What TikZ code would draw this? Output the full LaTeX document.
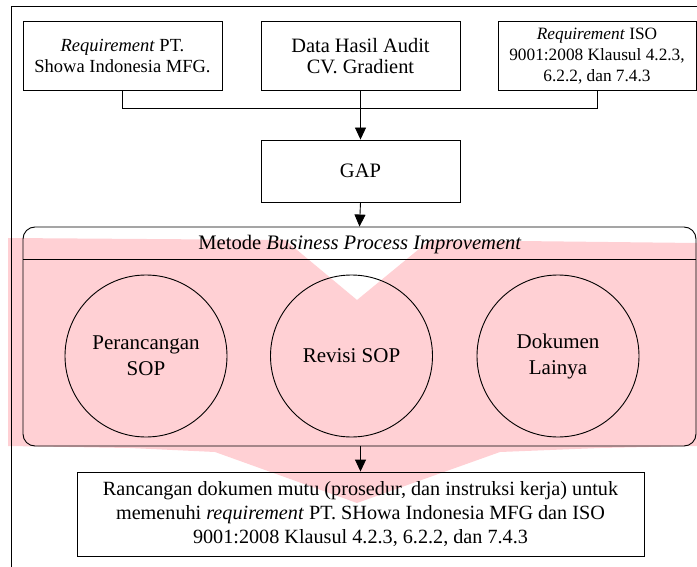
\documentclass[tikz,border=0pt]{standalone}
\usepackage{fontspec}
\setmainfont{Liberation Serif}
\usetikzlibrary{arrows.meta}
\definecolor{wm}{RGB}{255,208,212}
\begin{document}
\begin{tikzpicture}[x=1pt,y=-1pt,
  box/.style={draw, line width=0.9pt, inner sep=0pt, align=center},
  circ/.style={draw, circle, line width=0.9pt, minimum size=162pt, inner sep=0pt, align=center, font=\fontsize{21}{26}\selectfont},
  arr/.style={line width=0.9pt, -{Triangle[width=11pt,length=12pt]}},
  conn/.style={line width=0.9pt}]
\useasboundingbox (0,0) rectangle (697,567);
% watermark
\fill[wm] (8,238) -- (285,240) -- (357,300) -- (430,240) -- (697,243) -- (697,446)
  -- (600,448) -- (500,452) -- (357,503) -- (215,452) -- (130,448) -- (8,446) -- cycle;
% outer frame
\coordinate (fbl) at (11,567);
\coordinate (ftl) at (11,6);
\coordinate (ftr) at (697,6);
\draw[conn] (fbl) -- (ftl) -- (ftr);
% top boxes
\node[box, minimum width=199pt, minimum height=69pt, font=\fontsize{18.5}{21.7}\selectfont] (b1) at (122.5,56) {\textit{Requirement} PT.\\Showa Indonesia MFG.};
\node[box, minimum width=199pt, minimum height=69pt, font=\fontsize{20.4}{21.7}\selectfont] (b2) at (360.5,56) {Data Hasil Audit\\CV. Gradient};
\node[box, minimum width=198pt, minimum height=69pt, font=\fontsize{17.3}{21.3}\selectfont] (b3) at (597,56) {\textit{Requirement} ISO\\9001:2008 Klausul 4.2.3,\\6.2.2, dan 7.4.3};
% GAP
\node[box, minimum width=199pt, minimum height=62pt, font=\fontsize{20.5}{24}\selectfont] (gap) at (360.5,171) {GAP};
% connectors
\draw[conn] (b1.south) -- ++(0,18) -| (b3.south);
\draw[arr] (b2.south) -- (gap.north);
% container
\node[box, rounded corners=12pt, minimum width=673pt, minimum height=219pt] (cont) at (359.5,336.5) {};
\coordinate (hl) at (23,259.5);
\coordinate (hr) at (696,259.5);
\draw[conn] (hl) -- (hr);
\node[font=\fontsize{20.6}{24}\selectfont, inner sep=0pt] (head) at (360,245) {Metode \textit{Business Process Improvement}};
\draw[arr] (gap.south) -- (cont.north);
% circles
\node[circ] (c1) at (146,356) {Perancangan\\SOP};
\node[circ] (c2) at (351.5,356) {Revisi SOP};
\node[circ] (c3) at (558,356) {Dokumen\\Lainya};
% result
\node[box, minimum width=567pt, minimum height=84pt, font=\fontsize{20.2}{24}\selectfont] (res) at (360.5,514) {Rancangan dokumen mutu (prosedur, dan instruksi kerja) untuk\\memenuhi \textit{requirement} PT. SHowa Indonesia MFG dan ISO\\9001:2008 Klausul 4.2.3, 6.2.2, dan 7.4.3};
\draw[arr] (cont.south -| res.north) -- (res.north);
\end{tikzpicture}
\end{document}
